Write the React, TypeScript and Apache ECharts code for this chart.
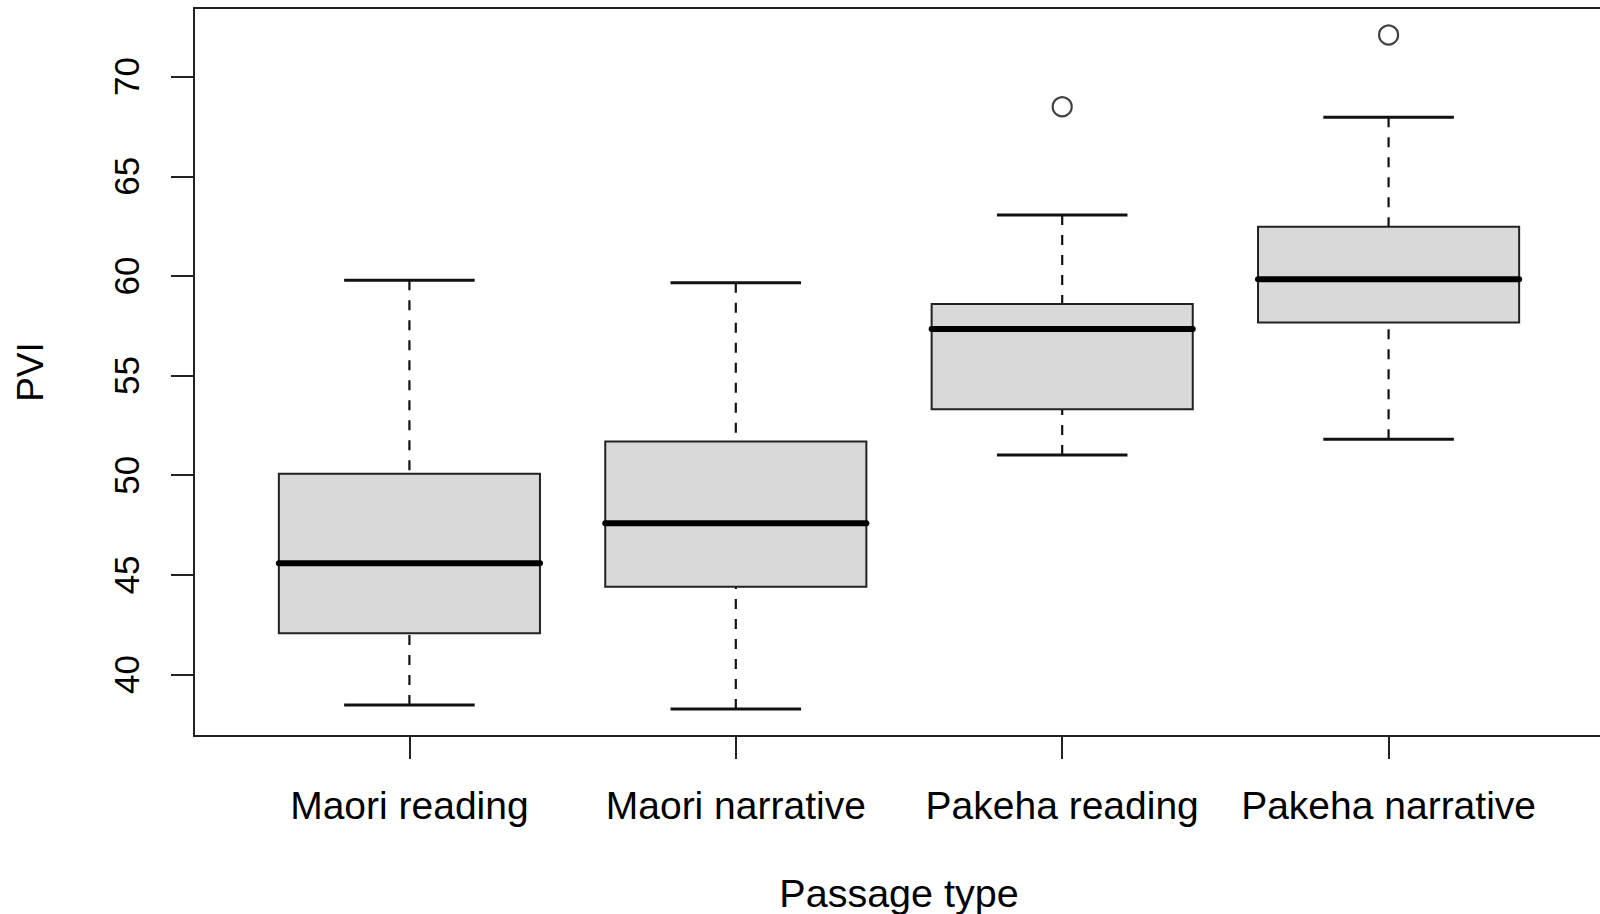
import React, { useEffect, useRef } from "react";
import * as echarts from "echarts";

// ---- data ----
const categories = ["Maori reading", "Maori narrative", "Pakeha reading", "Pakeha narrative"];
const categoryPos = [1, 2, 3, 4];
const whiskerLow = [38.47, 38.27, 51.02, 51.81];
const quartile1 = [42.07, 44.41, 53.31, 57.66];
const medians = [45.58, 47.59, 57.34, 59.83];
const quartile3 = [50.07, 51.69, 58.59, 62.47];
const whiskerHigh = [59.78, 59.66, 63.06, 67.96];
const outlierPos = [3, 4];
const outlierValues = [68.49, 72.09];
const yTicks = [40, 45, 50, 55, 60, 65, 70];

const FONT = "'Liberation Sans', Arial, Helvetica, sans-serif";

export default function App() {
  const ref = useRef<HTMLDivElement | null>(null);

  useEffect(() => {
    if (!ref.current) return;
    const chart = echarts.init(ref.current, undefined, { renderer: "svg" });

    // R-style axis extension: 4% of the data range on both ends
    const allVals = [...whiskerLow, ...whiskerHigh, ...outlierValues];
    const dMin = Math.min(...allVals);
    const dMax = Math.max(...allVals);
    const ext = (dMax - dMin) * 0.04;
    const xExt = categories.length * 0.04;

    const boxData = categoryPos.map((p, i) => [
      p,
      whiskerLow[i],
      quartile1[i],
      medians[i],
      quartile3[i],
      whiskerHigh[i],
    ]);

    const renderItem = (_params: any, api: any) => {
      const x = api.value(0);
      const lo = api.coord([x, api.value(1)]);
      const b1 = api.coord([x, api.value(2)]);
      const md = api.coord([x, api.value(3)]);
      const b3 = api.coord([x, api.value(4)]);
      const hi = api.coord([x, api.value(5)]);
      const halfBox = api.size([0.8, 0])[0] / 2;
      const halfStaple = api.size([0.4, 0])[0] / 2;
      const cx = lo[0];
      const dashStyle = { stroke: "#111", lineWidth: 2.2, lineDash: [10, 10] };
      const stapleStyle = { stroke: "#111", lineWidth: 3 };
      return {
        type: "group",
        children: [
          { type: "line", shape: { x1: cx, y1: hi[1], x2: cx, y2: b3[1] }, style: dashStyle },
          { type: "line", shape: { x1: cx, y1: lo[1], x2: cx, y2: b1[1] }, style: dashStyle },
          { type: "line", shape: { x1: cx - halfStaple, y1: hi[1], x2: cx + halfStaple, y2: hi[1] }, style: stapleStyle },
          { type: "line", shape: { x1: cx - halfStaple, y1: lo[1], x2: cx + halfStaple, y2: lo[1] }, style: stapleStyle },
          {
            type: "rect",
            shape: { x: cx - halfBox, y: b3[1], width: halfBox * 2, height: b1[1] - b3[1] },
            style: { fill: "#d9d9d9", stroke: "#222", lineWidth: 2 },
          },
          {
            type: "line",
            shape: { x1: cx - halfBox, y1: md[1], x2: cx + halfBox, y2: md[1] },
            style: { stroke: "#000", lineWidth: 6, lineCap: "round" },
          },
        ],
      };
    };

    chart.setOption({
      animation: false,
      backgroundColor: "#ffffff",
      textStyle: { fontFamily: FONT },
      grid: {
        left: 194,
        right: 1,
        top: 8,
        bottom: 178,
        outerBoundsMode: "none",
        containLabel: false,
        show: true,
        borderColor: "#222",
        borderWidth: 2,
        backgroundColor: "transparent",
      },
      xAxis: {
        type: "value",
        min: 0.5 - xExt,
        max: categories.length + 0.5 + xExt,
        axisLine: { show: false },
        splitLine: { show: false },
        axisTick: {
          show: true,
          customValues: categoryPos,
          length: 23,
          lineStyle: { color: "#222", width: 2 },
        },
        axisLabel: {
          customValues: categoryPos,
          formatter: (v: number) => categories[Math.round(v) - 1] ?? "",
          color: "#000",
          fontSize: 39,
          fontFamily: FONT,
          margin: 50,
        },
        name: "Passage type",
        nameLocation: "middle",
        nameGap: 141,
        nameTextStyle: { color: "#000", fontSize: 39.5, lineHeight: 32, fontFamily: FONT },
      },
      yAxis: {
        type: "value",
        min: dMin - ext,
        max: dMax + ext,
        axisLine: { show: false },
        splitLine: { show: false },
        axisTick: {
          show: true,
          customValues: yTicks,
          length: 23,
          lineStyle: { color: "#222", width: 2 },
        },
        axisLabel: {
          customValues: yTicks,
          rotate: 90,
          color: "#000",
          fontSize: 35,
          fontFamily: FONT,
          margin: 50,
        },
        name: "PVI",
        nameLocation: "middle",
        nameRotate: 90,
        nameGap: 145,
        nameTextStyle: { color: "#000", fontSize: 37, fontFamily: FONT },
      },
      series: [
        {
          type: "custom",
          renderItem,
          data: boxData,
          encode: { x: 0, y: [1, 2, 3, 4, 5] },
          z: 2,
        },
        {
          type: "scatter",
          data: outlierPos.map((p, i) => [p, outlierValues[i]]),
          symbol: "circle",
          symbolSize: 19,
          itemStyle: { color: "rgba(0,0,0,0)", borderColor: "#111", borderWidth: 2.2 },
          z: 3,
        },
      ],
    });

    return () => chart.dispose();
  }, []);

  return (
    <div style={{ position: "fixed", left: 0, top: 0, width: 1600, height: 914, overflow: "hidden", background: "#fff" }}>
      <div ref={ref} style={{ position: "absolute", left: 0, top: 0, width: 1605, height: 914 }} />
    </div>
  );
}
